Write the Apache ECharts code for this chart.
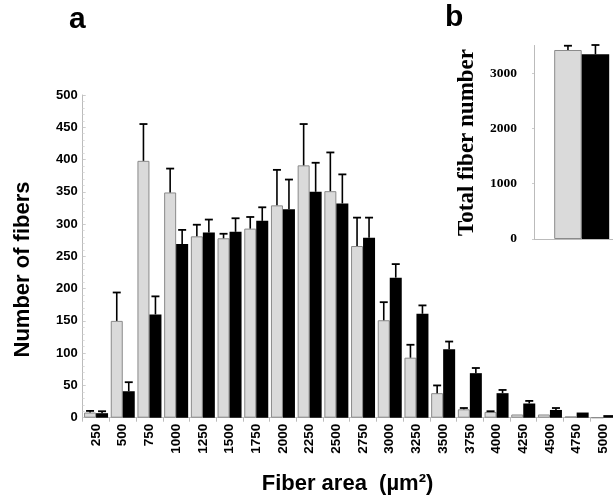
<!DOCTYPE html>
<html><head><meta charset="utf-8">
<script src="https://cdn.jsdelivr.net/npm/echarts@6/dist/echarts.min.js"></script>
<style>html,body{margin:0;padding:0;background:#fff}#c{width:613px;height:504px}</style>
</head><body><div id="c"></div>
<script>
var categories = ['250','500','750','1000','1250','1500','1750','2000','2250','2500','2750','3000','3250','3500','3750','4000','4250','4500','4750','5000'];
var greyValues = [8,150,398,349,281,278,293,329,391,351,266,151,93,38,13,9,5,5,2,0];
var greyErrors = [2.5,44,57,37,18,7,18,55,64,60,44,28,20,12,2,1,0,0,0,0];
var blackValues = [7,41,160,269,287,288,305,323,350,332,279,217,161,106,69,38,22,12,8,4];
var blackErrors = [3,14,28,22,20,21,21,46,45,45,31,21,13,12,8,5,4,3,0,0];
var yTicks = [0,50,100,150,200,250,300,350,400,450,500];
var insetCategories = ['Total'];
var insetGrey = [3418];
var insetGreyErr = [77];
var insetBlack = [3340];
var insetBlackErr = [168];
var insetTicks = [0,1000,2000,3000];

var sans = 'Liberation Sans, Arial, sans-serif';
var serif = 'Liberation Serif, Times New Roman, serif';

function errItem(offset){
  return function(params, api){
    var i = api.value(0), v = api.value(1), e = api.value(2);
    if (!(e > 0)) return null;
    var p0 = api.coord([i, v]);
    var p1 = api.coord([i, v + e]);
    var x = p0[0] + offset;
    return {type:'group', children:[
      {type:'line', shape:{x1:x,y1:p0[1],x2:x,y2:p1[1]}, style:{stroke:'#000',lineWidth:1.6}},
      {type:'line', shape:{x1:x-4,y1:p1[1],x2:x+4,y2:p1[1]}, style:{stroke:'#000',lineWidth:1.8}}
    ]};
  };
}
function errData(vals, errs){ return vals.map(function(v,i){return [i, v, errs[i]];}); }

var chart = echarts.init(document.getElementById('c'), null, {renderer:'canvas'});
chart.setOption({
  animation:false,
  backgroundColor:'#fff',
  grid:[
    {left:82.7, top:95, width:534, height:322.7, outerBoundsMode:'none', containLabel:false},
    {left:534, top:45.45, width:95.4, height:193.55, outerBoundsMode:'none', containLabel:false}
  ],
  xAxis:[
    {type:'category', gridIndex:0, data:categories,
     axisLine:{lineStyle:{color:'#bbb',width:1}},
     axisTick:{show:true, length:4, lineStyle:{color:'#bbb'}},
     axisLabel:{rotate:90, color:'#000', fontFamily:sans, fontWeight:'bold', fontSize:13.5, margin:6, interval:0}},
    {type:'category', gridIndex:1, data:insetCategories,
     axisLine:{lineStyle:{color:'#bbb'}}, axisTick:{show:false}, axisLabel:{show:false}}
  ],
  yAxis:[
    {type:'value', gridIndex:0, min:0, max:500, interval:50,
     axisLine:{show:true, lineStyle:{color:'#bbb'}},
     axisTick:{show:true, inside:true, length:3, lineStyle:{color:'#ccc'}},
     minorTick:{show:true, splitNumber:5, length:2, lineStyle:{color:'#ddd'}},
     splitLine:{show:false},
     axisLabel:{color:'#000', fontFamily:sans, fontWeight:'bold', fontSize:13, margin:5,
       formatter:function(v){return yTicks.indexOf(v)>=0 ? String(v) : '';}}},
    {type:'value', gridIndex:1, min:0, max:3500, interval:1000,
     axisLine:{show:true, lineStyle:{color:'#bbb'}},
     axisTick:{show:true, length:2, lineStyle:{color:'#ccc'}},
     splitLine:{show:false},
     axisLabel:{color:'#000', fontFamily:serif, fontWeight:'bold', fontSize:13.5, margin:17, showMaxLabel:false,
       formatter:function(v){return insetTicks.indexOf(v)>=0 ? String(v) : '';}}}
  ],
  series:[
    {type:'bar', xAxisIndex:0, yAxisIndex:0, data:greyValues, barWidth:12, barGap:'0%',
     itemStyle:{color:'#dadada', borderColor:'#8a8a8a', borderWidth:1}},
    {type:'bar', xAxisIndex:0, yAxisIndex:0, data:blackValues, barWidth:12, barGap:'0%',
     itemStyle:{color:'#000'}},
    {type:'custom', xAxisIndex:0, yAxisIndex:0, renderItem:errItem(-6), data:errData(greyValues, greyErrors), z:5},
    {type:'custom', xAxisIndex:0, yAxisIndex:0, renderItem:errItem(6), data:errData(blackValues, blackErrors), z:5},
    {type:'bar', xAxisIndex:1, yAxisIndex:1, data:insetGrey, barWidth:27.5, barGap:'0%',
     itemStyle:{color:'#dadada', borderColor:'#8a8a8a', borderWidth:1}},
    {type:'bar', xAxisIndex:1, yAxisIndex:1, data:insetBlack, barWidth:27.5, barGap:'0%',
     itemStyle:{color:'#000'}},
    {type:'custom', xAxisIndex:1, yAxisIndex:1, renderItem:errItem(-13.75), data:errData(insetGrey, insetGreyErr), z:5},
    {type:'custom', xAxisIndex:1, yAxisIndex:1, renderItem:errItem(13.75), data:errData(insetBlack, insetBlackErr), z:5}
  ],
  graphic:[
    {type:'text', left:69, top:5, style:{text:'a', font:'bold 30px '+sans, fill:'#000'}},
    {type:'text', left:445, top:3, style:{text:'b', font:'bold 30px '+sans, fill:'#000'}},
    {type:'text', x:23, y:269.5, rotation:Math.PI/2,
     style:{text:'Number of fibers', font:'bold 22px '+sans, fill:'#000', align:'center', verticalAlign:'middle'}},
    {type:'text', x:347.5, y:484,
     style:{text:'Fiber area  (\u00b5m\u00b2)', font:'bold 22px '+sans, fill:'#000', align:'center', verticalAlign:'middle'}},
    {type:'text', x:467.5, y:142.5, rotation:Math.PI/2,
     style:{text:'Total fiber number', font:'bold 23px '+serif, fill:'#000', align:'center', verticalAlign:'middle'}}
  ]
});
</script></body></html>
